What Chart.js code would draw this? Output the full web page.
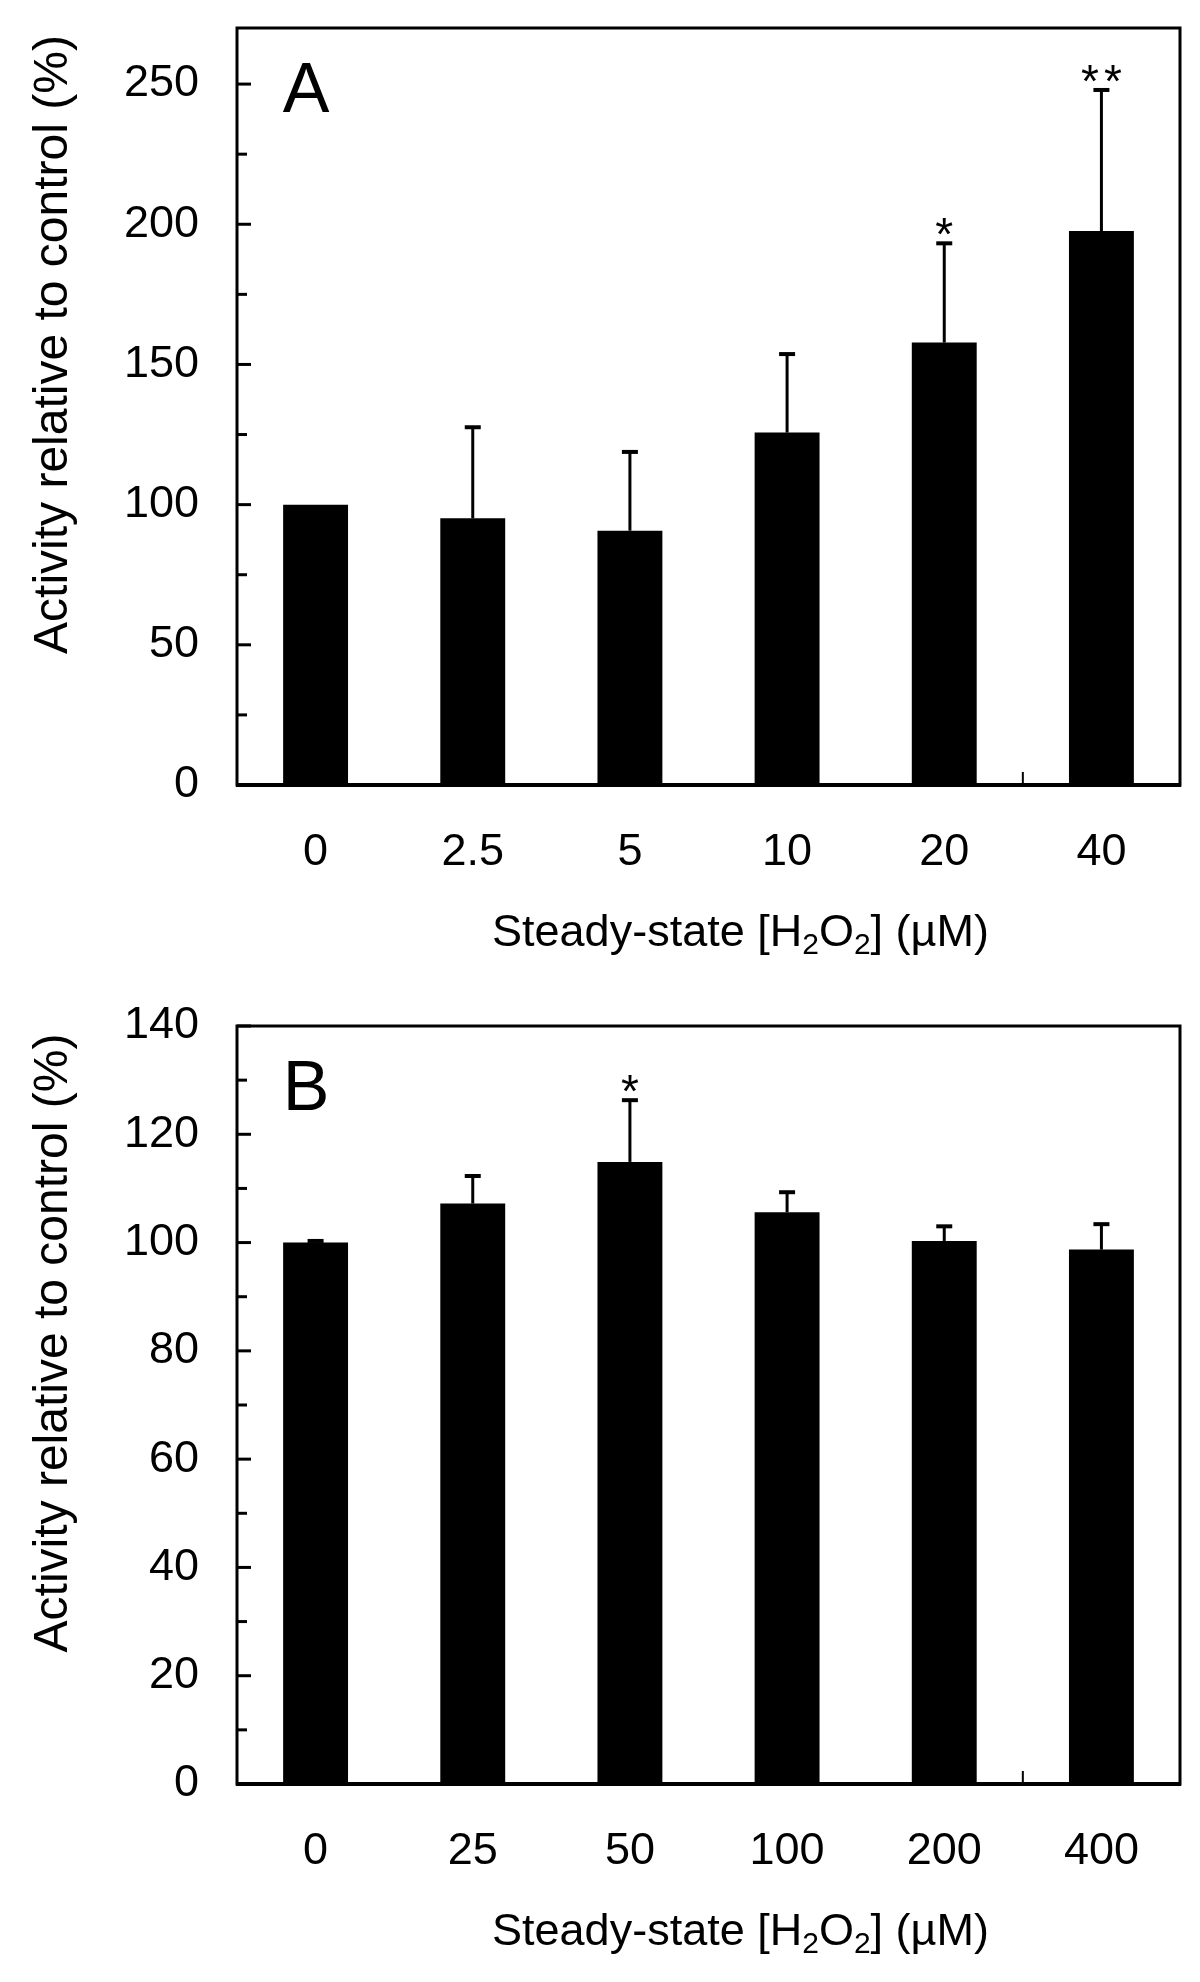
<!DOCTYPE html>
<html>
<head>
<meta charset="utf-8">
<script src="https://cdn.jsdelivr.net/npm/chart.js@4.4.1/dist/chart.umd.min.js"></script>
<style>
  html, body { margin: 0; padding: 0; background: #fff; }
  canvas { display: block; }
</style>
</head>
<body>
<canvas id="chartA" width="1200" height="990"></canvas>
<canvas id="chartB" width="1200" height="992"></canvas>
<script>
// panel A
const labelsA = ['0', '2.5', '5', '10', '20', '40'];
const valuesA = [100, 95.1, 90.7, 125.7, 157.8, 197.6];
const errorsA = [0, 32.5, 28.1, 28.0, 35.4, 50.3];
const starsA = ['', '', '', '', '*', '**'];

// panel B
const labelsB = ['0', '25', '50', '100', '200', '400'];
const valuesB = [100, 107.2, 114.9, 105.6, 100.3, 98.7];
const errorsB = [0.3, 5.1, 11.4, 3.7, 2.7, 4.7];
const starsB = ['', '', '*', '', '', ''];

const FONT = "'Liberation Sans', Arial, sans-serif";

// error bars, stars, box, inner ticks and titles
const framePlugin = {
  id: 'frame',
  afterDatasetsDraw(chart, args, opts) {
    const ctx = chart.ctx;
    const meta = chart.getDatasetMeta(0);
    const y = chart.scales.y;
    const data = chart.data.datasets[0].data;
    ctx.save();
    ctx.strokeStyle = '#000';
    ctx.fillStyle = '#000';
    meta.data.forEach(function (bar, i) {
      const err = opts.errors[i];
      const top = y.getPixelForValue(data[i] + err);
      if (err) {
        ctx.lineWidth = 3;
        ctx.beginPath();
        ctx.moveTo(bar.x, bar.y);
        ctx.lineTo(bar.x, top);
        ctx.stroke();
        ctx.lineWidth = 4;
        ctx.beginPath();
        ctx.moveTo(bar.x - 8, top);
        ctx.lineTo(bar.x + 8, top);
        ctx.stroke();
      }
      if (opts.stars[i]) {
        ctx.font = '46px ' + FONT;
        ctx.textAlign = 'center';
        ctx.textBaseline = 'alphabetic';
        ctx.letterSpacing = '5px';
        ctx.fillText(opts.stars[i], bar.x + 2.5, top + 7);
        ctx.letterSpacing = '0px';
      }
    });
    ctx.restore();
  },
  afterDraw(chart, args, opts) {
    const ctx = chart.ctx;
    const a = chart.chartArea;
    const y = chart.scales.y;
    const x = chart.scales.x;
    ctx.save();
    ctx.strokeStyle = '#000';
    ctx.fillStyle = '#000';

    // box
    ctx.lineWidth = 3;
    ctx.strokeRect(a.left, a.top, a.right - a.left, a.bottom - a.top);
    ctx.lineWidth = 4;
    ctx.beginPath();
    ctx.moveTo(a.left - 1, a.bottom);
    ctx.lineTo(a.right + 1, a.bottom);
    ctx.stroke();

    // inner ticks on y axis
    ctx.lineWidth = 3;
    for (let v = 0; v <= y.max; v += opts.minorStep) {
      const py = y.getPixelForValue(v);
      const len = (v % opts.majorStep === 0) ? 14 : 10;
      ctx.beginPath();
      ctx.moveTo(a.left, py);
      ctx.lineTo(a.left + len, py);
      ctx.stroke();
    }
    // the lone tick on the x axis
    ctx.lineWidth = 2;
    const px = x.getPixelForValue(4.5);
    ctx.beginPath();
    ctx.moveTo(px, a.bottom);
    ctx.lineTo(px, a.bottom - 13);
    ctx.stroke();

    // panel letter
    ctx.font = '70px ' + FONT;
    ctx.textAlign = 'center';
    ctx.textBaseline = 'alphabetic';
    ctx.fillText(opts.letter, a.left + 69, a.top + 84);

    // y title
    ctx.save();
    ctx.font = '48px ' + FONT;
    ctx.translate(54, (a.top + a.bottom) / 2 - 62);
    ctx.rotate(-Math.PI / 2);
    ctx.textAlign = 'center';
    ctx.textBaseline = 'middle';
    ctx.fillText('Activity relative to control (%)', 0, 0);
    ctx.restore();

    // x title with subscripts
    const parts = [
      ['Steady-state [H', false],
      ['2', true],
      ['O', false],
      ['2', true],
      ['] (\u00b5M)', false]
    ];
    const big = '45px ' + FONT;
    const small = '30px ' + FONT;
    let total = 0;
    parts.forEach(function (p) {
      ctx.font = p[1] ? small : big;
      total += ctx.measureText(p[0]).width;
    });
    let cx = (a.left + a.right) / 2 + 32 - total / 2;
    const base = a.bottom + 161;
    ctx.textAlign = 'left';
    ctx.textBaseline = 'alphabetic';
    parts.forEach(function (p) {
      ctx.font = p[1] ? small : big;
      ctx.fillText(p[0], cx, p[1] ? base + 8 : base);
      cx += ctx.measureText(p[0]).width;
    });
    ctx.restore();
  }
};

function makeChart(id, labels, values, errors, stars, letter, yMax, major, minor, padTop, xHeight) {
  const ctx = document.getElementById(id).getContext('2d');
  return new Chart(ctx, {
    type: 'bar',
    data: {
      labels: labels,
      datasets: [{
        data: values,
        backgroundColor: '#000',
        borderWidth: 0,
        barPercentage: 1,
        categoryPercentage: 0.413
      }]
    },
    options: {
      responsive: false,
      animation: false,
      devicePixelRatio: 1,
      layout: { padding: { left: 0, right: 20, top: padTop, bottom: 0 } },
      plugins: {
        legend: { display: false },
        tooltip: { enabled: false },
        frame: { errors: errors, stars: stars, letter: letter, majorStep: major, minorStep: minor }
      },
      scales: {
        x: {
          grid: { display: false },
          border: { display: false },
          ticks: { color: '#000', font: { family: FONT, size: 45 }, padding: 33, maxRotation: 0 },
          afterFit: function (scale) {
            scale.height = xHeight;
            scale.paddingLeft = 0;
            scale.paddingRight = 0;
          }
        },
        y: {
          min: 0,
          max: yMax,
          grid: { display: false },
          border: { display: false },
          ticks: { stepSize: major, includeBounds: false, color: '#000', font: { family: FONT, size: 45 }, padding: 30 },
          afterFit: function (scale) {
            scale.width = 237;
            scale.paddingTop = 0;
            scale.paddingBottom = 0;
          }
        }
      }
    },
    plugins: [framePlugin]
  });
}

makeChart('chartA', labelsA, valuesA, errorsA, starsA, 'A', 270, 50, 25, 28, 205);
makeChart('chartB', labelsB, valuesB, errorsB, starsB, 'B', 140, 20, 10, 36, 198);
</script>
</body>
</html>
